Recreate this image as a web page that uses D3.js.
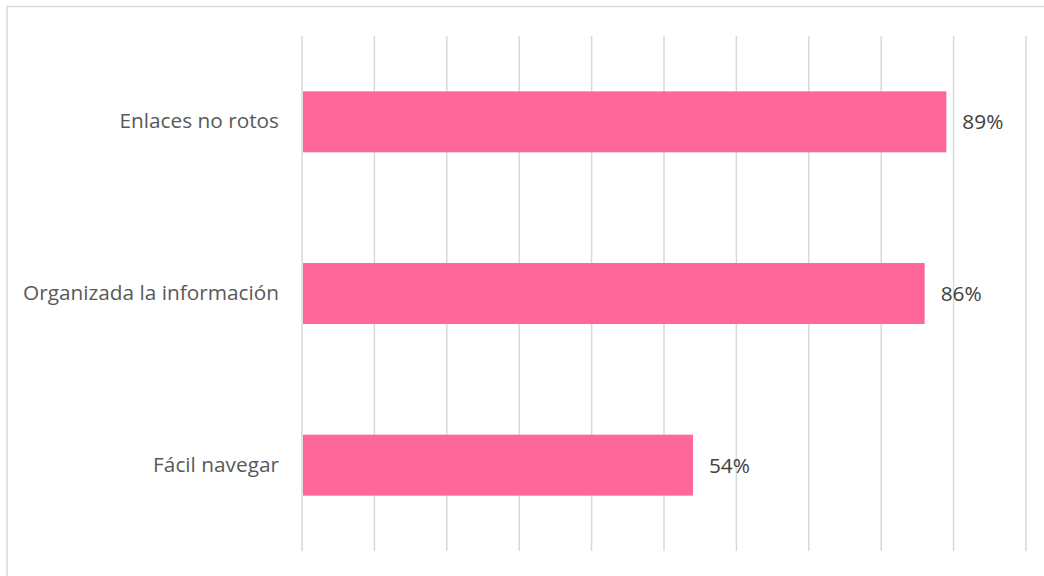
<!DOCTYPE html>
<html>
<head>
<meta charset="utf-8">
<script src="https://cdn.jsdelivr.net/npm/d3@7"></script>
<style>
  html, body { margin: 0; padding: 0; background: #fff; }
  svg { display: block; }
</style>
</head>
<body>
<svg id="chart" width="1044" height="576"></svg>
<script>
// Survey results: share of respondents agreeing with each statement
const categories = ["Enlaces no rotos", "Organizada la información", "Fácil navegar"];
const values = [0.89, 0.86, 0.54];
const tickValues = [0, 0.1, 0.2, 0.3, 0.4, 0.5, 0.6, 0.7, 0.8, 0.9, 1.0];

const svg = d3.select("#chart");
const W = 1044, H = 576;
const margin = { left: 302, right: 18, top: 36, bottom: 25 };

// Chart frame
svg.append("rect")
  .attr("x", 7).attr("y", 6.5)
  .attr("width", W + 10).attr("height", H + 10)
  .attr("fill", "#fff")
  .attr("stroke", "#d9d9d9")
  .attr("stroke-width", 1.5);

const x = d3.scaleLinear()
  .domain([0, 1])
  .range([margin.left, W - margin.right]);

const y = d3.scaleBand()
  .domain(categories)
  .range([margin.top, H - margin.bottom])
  .paddingInner(0.645)
  .paddingOuter(0.3225);

// Vertical gridlines
svg.append("g")
  .selectAll("line")
  .data(tickValues)
  .join("line")
  .attr("x1", d => x(d)).attr("x2", d => x(d))
  .attr("y1", margin.top).attr("y2", H - margin.bottom)
  .attr("stroke", "#d9d9d9")
  .attr("stroke-width", 1.5);

// Bars
svg.append("g")
  .selectAll("rect")
  .data(values)
  .join("rect")
  .attr("x", x(0) + 1)
  .attr("y", (d, i) => y(categories[i]))
  .attr("width", d => x(d) - x(0) - 1)
  .attr("height", y.bandwidth())
  .attr("fill", "#ff6699");

const font = "'Open Sans', sans-serif";

// Category labels
const yAxis = d3.axisLeft(y).tickSize(0).tickPadding(23);
const gy = svg.append("g")
  .attr("transform", `translate(${x(0)},0)`)
  .call(yAxis);
gy.select(".domain").remove();
gy.selectAll("text")
  .attr("font-family", font)
  .attr("font-size", 20.8)
  .attr("fill", "#595959");

// Value labels
svg.append("g")
  .selectAll("text")
  .data(values)
  .join("text")
  .attr("x", d => x(d) + 16)
  .attr("y", (d, i) => y(categories[i]) + y.bandwidth() / 2)
  .attr("dy", "0.36em")
  .attr("font-family", font)
  .attr("font-size", 20.8)
  .attr("fill", "#404040")
  .text(d => d3.format(".0%")(d));
</script>
</body>
</html>
